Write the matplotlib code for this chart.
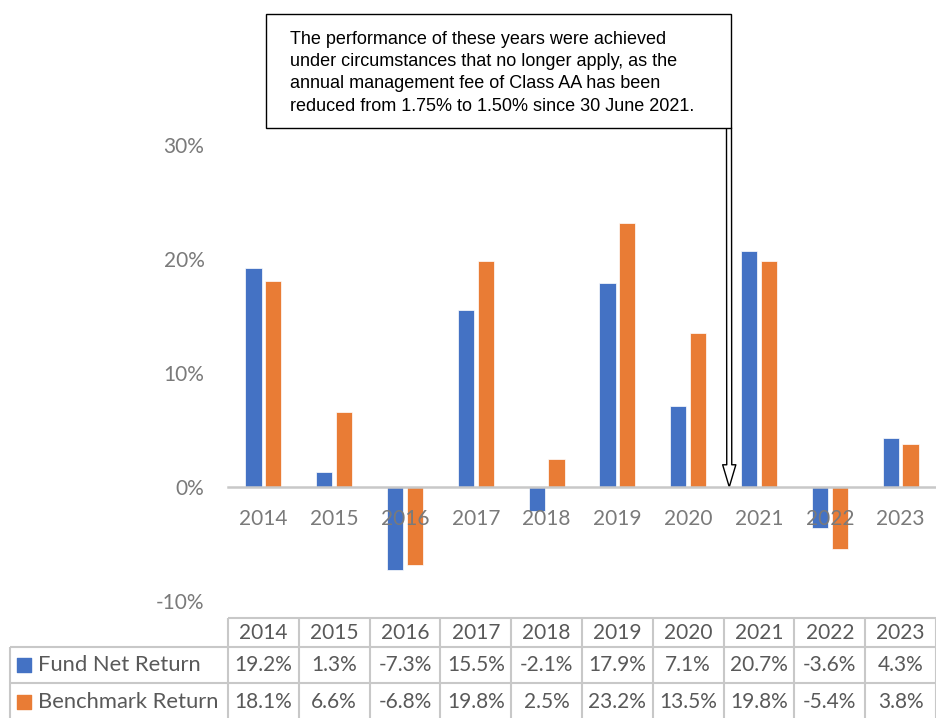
import numpy as np
import matplotlib
matplotlib.use('Agg')
import matplotlib.pyplot as plt
from matplotlib.patches import Rectangle

# yearly returns, in percent
years = ['2014', '2015', '2016', '2017', '2018', '2019', '2020', '2021', '2022', '2023']
fund = [19.2, 1.3, -7.3, 15.5, -2.1, 17.9, 7.1, 20.7, -3.6, 4.3]
bench = [18.1, 6.6, -6.8, 19.8, 2.5, 23.2, 13.5, 19.8, -5.4, 3.8]
series_names = ['Fund Net Return', 'Benchmark Return']
yticks = [-10, 0, 10, 20, 30]

blue = '#4472C4'
orange = '#E97C35'
gray_txt = '#7a7a7a'
table_txt = '#595959'
grid_col = '#c8c8c8'

note = ('The performance of these years were achieved\n'
        'under circumstances that no longer apply, as the\n'
        'annual management fee of Class AA has been\n'
        'reduced from 1.75% to 1.50% since 30 June 2021.')

plt.rcParams['font.family'] = ['Lato', 'DejaVu Sans']

W, H = 936, 718
fig = plt.figure(figsize=(W / 100, H / 100), dpi=100)

# main bar chart
ax = fig.add_axes([228 / W, (H - 601) / H, 708 / W, 456 / H])
x = np.arange(len(years))
bw = 0.23
ax.bar(x - 0.14, fund, bw, color=blue, edgecolor='white', linewidth=0.5, zorder=1)
ax.bar(x + 0.14, bench, bw, color=orange, edgecolor='white', linewidth=0.5, zorder=1)

ax.set_xlim(-0.5, len(years) - 0.5)
ax.set_ylim(-10, 30)
ax.set_yticks(yticks)
ax.set_yticklabels(['%d%%' % v for v in yticks])
ax.set_xticks(x)
ax.set_xticklabels(years)

for s in ['top', 'right', 'left']:
    ax.spines[s].set_visible(False)
ax.spines['bottom'].set_position(('data', 0))
ax.spines['bottom'].set_color(grid_col)
ax.spines['bottom'].set_linewidth(1.8)
ax.spines['bottom'].set_zorder(3)
ax.tick_params(axis='x', length=0, pad=15.5, labelsize=15, labelcolor=gray_txt)
ax.tick_params(axis='y', length=0, pad=17, labelsize=15, labelcolor=gray_txt)
for lab in ax.get_xticklabels():
    lab.set_zorder(5)

# note box with arrow down to the zero line
fig.add_artist(Rectangle((266 / W, 1 - 128 / H), 465 / W, 114 / H,
                         transform=fig.transFigure, facecolor='white',
                         edgecolor='black', linewidth=1.0))
fig.text(290 / W, 1 - 31 / H, note, ha='left', va='top', fontsize=13,
         family='Liberation Sans', color='black', linespacing=1.4)
ax.annotate('', xy=(6.58, 0), xycoords='data',
            xytext=(729 / W, 1 - 128 / H), textcoords='figure fraction',
            arrowprops=dict(arrowstyle='simple,head_length=1.6,head_width=0.95,tail_width=0.36',
                            mutation_scale=10, fc='white', ec='black', lw=1,
                            shrinkA=0, shrinkB=0),
            annotation_clip=False)

# data table under the chart
lab_w = 218 / 70.8
tax = fig.add_axes([10 / W, (H - 719) / H, 926 / W, 101 / H])
tax.set_xlim(-0.5 - lab_w, len(years) - 0.5)
tax.set_ylim(2.8, 0)
tax.axis('off')

left = -0.5 - lab_w
right = len(years) - 0.5
row_top = [0, 0.8, 1.8]
row_mid = [0.42, 1.3, 2.34]
tax.hlines(row_top[0], -0.5, right, color=grid_col, lw=1.5, clip_on=False)
tax.hlines(row_top[1:], left, right, color=grid_col, lw=1.5, clip_on=False)
tax.vlines(np.arange(-0.5, len(years)), 0, 2.8, color=grid_col, lw=1.5, clip_on=False)
tax.vlines(left, 0.8, 2.8, color=grid_col, lw=1.5, clip_on=False)

for i, yr in enumerate(years):
    tax.text(i, row_mid[0], yr, ha='center', va='center', fontsize=15, color=table_txt)
for r, (name, vals, col) in enumerate(zip(series_names, [fund, bench], [blue, orange])):
    ym = row_mid[r + 1]
    tax.scatter([left + 14 / 70.8], [ym], marker='s', s=95, color=col, clip_on=False)
    tax.text(left + 28 / 70.8, ym, name, ha='left', va='center', fontsize=15.8, color=table_txt)
    for i, v in enumerate(vals):
        tax.text(i, ym, '%.1f%%' % v, ha='center', va='center', fontsize=15, color=table_txt)

fig.savefig('out.png', dpi=100)
